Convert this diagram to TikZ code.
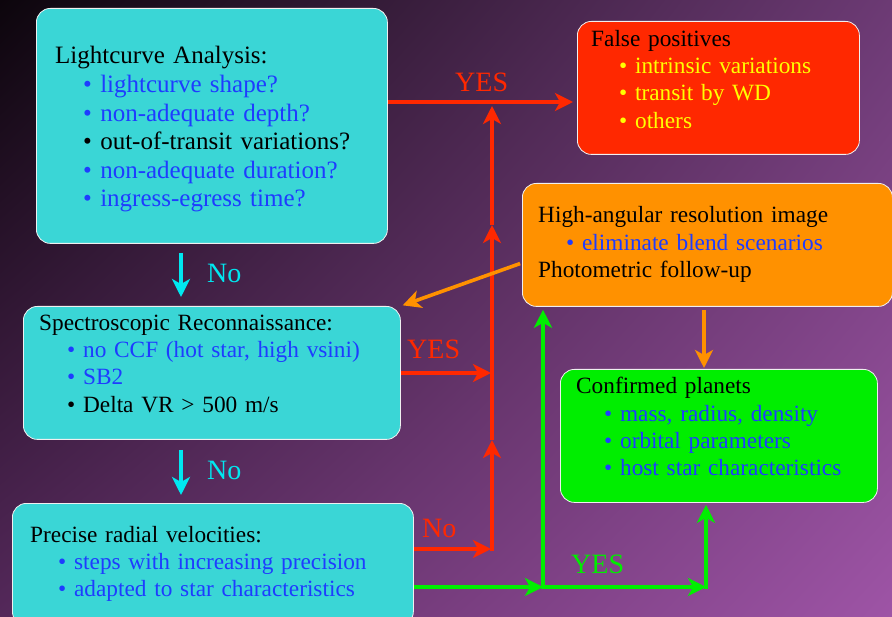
\documentclass[tikz,border=0pt]{standalone}
\usepackage{fontspec}
\setmainfont{Liberation Serif}
\usetikzlibrary{positioning,arrows.meta,shadings}

\definecolor{ciano}{RGB}{58,214,214}
\definecolor{cianoF}{RGB}{0,232,240}
\definecolor{blu}{RGB}{30,60,255}
\definecolor{rosso}{RGB}{255,40,0}
\definecolor{arancio}{RGB}{255,145,0}
\definecolor{verde}{RGB}{0,238,0}
\definecolor{giallo}{RGB}{255,255,0}
\definecolor{fondoA}{RGB}{12,5,12}
\definecolor{fondoB}{RGB}{108,58,116}
\definecolor{fondoC}{RGB}{84,40,90}
\definecolor{fondoD}{RGB}{158,84,166}

%% voce di elenco: #1 colore, #2 testo
\newcommand{\voce}[2]{\\\hspace*{28pt}\textcolor{#1}{\textbullet\ #2}}

\begin{document}
\begin{tikzpicture}[x=1pt, y=-1pt,
		>={Stealth[length=18pt, width=18pt, inset=5pt]},
		riquadro/.style={rectangle, rounded corners=14pt, draw=white!88!gray,
			line width=0.8pt, anchor=north west, inner sep=0pt},
		testo/.style={anchor=base west, inner sep=0pt, align=left,
			text width=420pt, font=\fontsize{23.3}{27.2}\selectfont},
		etich/.style={anchor=base west, inner sep=0pt,
			font=\fontsize{28}{30}\selectfont},
		freccia/.style={->, line width=3.6pt}]
	
	%% --- fondo sfumato ---
	\useasboundingbox (0,0) rectangle (892,617);
	\shade[upper left=fondoA, upper right=fondoB, lower left=fondoC,
		lower right=fondoD] (0,0) rectangle (892,617);
	
	%% --- riquadri ---
	\node[riquadro, fill=ciano, minimum width=351pt, minimum height=235pt] (luce) at (36,8) {};
	\node[riquadro, fill=rosso, minimum width=282pt, minimum height=133pt] (falsi) at (577,21) {};
	\node[riquadro, fill=arancio, minimum width=370pt, minimum height=123pt] (immag) at (522,183) {};
	\node[riquadro, fill=ciano, minimum width=377pt, minimum height=133pt] (spet) at (23,306) {};
	\node[riquadro, fill=ciano, minimum width=401pt, minimum height=122pt] (velo) at (12,503) {};
	\node[riquadro, fill=verde, minimum width=317pt, minimum height=133pt] (pian) at (560,369) {};
	
	%% --- testi dei riquadri (prima linea di base) ---
	\node[testo, font=\fontsize{25}{28.6}\selectfont] (tluce) at ([shift={(19,56)}]luce.north west)
		{Lightcurve Analysis:
		\voce{blu}{lightcurve shape?}
		\voce{blu}{non-adequate depth?}
		\voce{black}{out-of-transit variations?}
		\voce{blu}{non-adequate duration?}
		\voce{blu}{ingress-egress time?}};
	\node[testo] (tfalsi) at ([shift={(14,25.5)}]falsi.north west)
		{False positives
		\voce{giallo}{intrinsic variations}
		\voce{giallo}{transit by WD}
		\voce{giallo}{others}};
	\node[testo] (timmag) at ([shift={(16,40)}]immag.north west)
		{High-angular resolution image
		\voce{blu}{eliminate blend scenarios}\\
		Photometric follow-up};
	\node[testo] (tspet) at ([shift={(16,24.5)}]spet.north west)
		{Spectroscopic Reconnaissance:
		\voce{blu}{no CCF (hot star, high vsini)}
		\voce{blu}{SB2}
		\voce{black}{Delta VR > 500 m/s}};
	\node[testo] (tvelo) at ([shift={(18,39)}]velo.north west)
		{Precise radial velocities:
		\voce{blu}{steps with increasing precision}
		\voce{blu}{adapted to star characteristics}};
	\node[testo] (tpian) at ([shift={(16,25)}]pian.north west)
		{Confirmed planets
		\voce{blu}{mass, radius, density}
		\voce{blu}{orbital parameters}
		\voce{blu}{host star characteristics}};
	
	%% --- nodi di incrocio delle frecce ---
	\coordinate (nSi) at (492,102);     %% YES verso i falsi positivi
	\coordinate (nSpet) at (492,373);
	\coordinate (nNo) at (492,549);
	\coordinate (pR1) at (492,440);     %% punte sulla verticale rossa
	\coordinate (pR2) at (492,225);
	\coordinate (nV) at (543,587);
	\coordinate (nV2) at (706,587);
	\coordinate (xCiano) at (181,0);
	\coordinate (xArancio) at (704,0);
	
	%% --- frecce rosse ---
	\draw[freccia, rosso, shorten >=4pt] (luce.east |- nSi) -- (falsi.west |- nSi);
	\draw[freccia, rosso, shorten >=1pt] (spet.east |- nSpet) -- (nSpet);
	\draw[freccia, rosso, shorten >=1pt] (velo.east |- nNo) -- (nNo);
	\draw[freccia, rosso] ([yshift=-2pt]nNo) -- (pR1);
	\draw[freccia, rosso] (pR1) -- (pR2);
	\draw[freccia, rosso, shorten >=4pt] (pR2) -- (nSi);
	
	%% --- frecce verdi ---
	\draw[freccia, verde] (velo.east |- nV) -- (nV);
	\draw[freccia, verde, shorten >=3pt] ([yshift=-2pt]nV) -- (immag.south -| nV);
	\draw[freccia, verde] (nV) -- (nV2);
	\draw[freccia, verde, shorten >=2pt] ([yshift=-2pt]nV2) -- (pian.south -| nV2);
	
	%% --- frecce arancio ---
	\draw[freccia, arancio, shorten <=2pt, shorten >=2pt] ([yshift=-18pt]immag.west) -- (spet.north east);
	\draw[freccia, arancio, shorten <=3pt, shorten >=1pt] (immag.south -| xArancio) -- (pian.north -| xArancio);
	
	%% --- frecce ciano ---
	\draw[freccia, cianoF, shorten <=9pt, shorten >=9pt] (luce.south -| xCiano) -- (spet.north -| xCiano);
	\draw[freccia, cianoF, shorten <=10pt, shorten >=8pt] (spet.south -| xCiano) -- (velo.north -| xCiano);
	
	%% --- etichette ---
	\node[etich, rosso] (siA) at (455,92) {YES};
	\node[etich, rosso] (siB) at (407,359) {YES};
	\node[etich, rosso] (noC) at (422,537) {No};
	\node[etich, verde] (siD) at (571,573) {YES};
	\node[etich, cianoF] (noA) at (207,283) {No};
	\node[etich, cianoF] (noB) at (207,480) {No};
	
\end{tikzpicture}
\end{document}
